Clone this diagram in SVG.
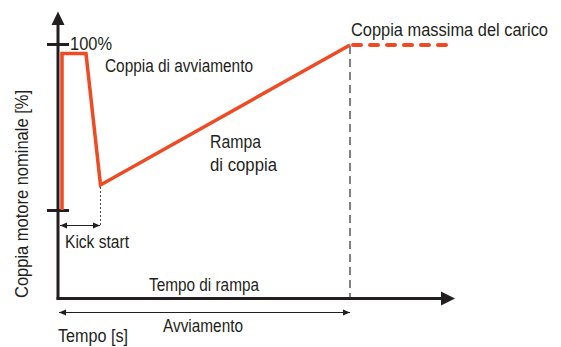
<svg xmlns="http://www.w3.org/2000/svg" width="561" height="347" viewBox="0 0 561 347">
  <style>
    text { font-family: "Liberation Sans", Arial, sans-serif; font-size: 17.5px; fill: #231f20; }
    .axis { stroke: #231f20; stroke-width: 3; fill: none; }
    .tick { stroke: #231f20; stroke-width: 3; }
    .curve { stroke: #ef4a23; stroke-width: 3.5; fill: none; stroke-linejoin: miter; }
    .curvedash { stroke: #ef4a23; stroke-width: 4; fill: none; stroke-dasharray: 8 9; stroke-linecap: round; }
    .guide { stroke: #4d4d4f; stroke-width: 1.4; stroke-dasharray: 8 5; fill: none; }
    .dot { stroke: #4d4d4f; stroke-width: 1; stroke-dasharray: 2 2; fill: none; }
    .dim { stroke: #231f20; stroke-width: 1.2; fill: none; marker-start: url(#aS); marker-end: url(#aE); }
  </style>
  <defs>
    <marker id="aE" markerWidth="8" markerHeight="8" refX="7" refY="4" orient="auto" markerUnits="userSpaceOnUse">
      <path d="M0,1 L7,4 L0,7 Z" fill="#231f20"/>
    </marker>
    <marker id="aS" markerWidth="8" markerHeight="8" refX="1" refY="4" orient="auto" markerUnits="userSpaceOnUse">
      <path d="M8,1 L1,4 L8,7 Z" fill="#231f20"/>
    </marker>
  </defs>

  <g id="axes">
    <line class="axis" x1="58" y1="299.5" x2="58" y2="22"/>
    <path d="M51.5,25 L58,11.5 L64.5,25 Z" fill="#231f20"/>
    <line class="axis" x1="56.5" y1="298.5" x2="444" y2="298.5"/>
    <path d="M441,291.5 L455,298.5 L441,305.5 Z" fill="#231f20"/>
    <line class="tick" x1="47" y1="44.5" x2="69" y2="44.5"/>
    <line class="tick" x1="47" y1="210.5" x2="69" y2="210.5"/>
  </g>

  <g id="connectors">
    <line class="guide" x1="350" y1="46" x2="350" y2="297"/>
    <line class="dot" x1="100.5" y1="187" x2="100.5" y2="225"/>
    <line class="dim" x1="60" y1="225.5" x2="100" y2="225.5"/>
    <line class="dim" x1="59" y1="312.5" x2="350" y2="312.5"/>
  </g>

  <g id="torque-curve">
    <path class="curve" d="M62,210 L62,53.5 L86,53.5 L100.5,185 L350,45"/>
    <line class="curvedash" x1="353" y1="45" x2="447" y2="45"/>
  </g>

  <g id="labels">
    <text x="70" y="49.5" textLength="42" lengthAdjust="spacingAndGlyphs">100%</text>
    <text x="105" y="72" textLength="148" lengthAdjust="spacingAndGlyphs">Coppia di avviamento</text>
    <text x="210" y="148" textLength="51" lengthAdjust="spacingAndGlyphs">Rampa</text>
    <text x="210" y="170.5" textLength="67" lengthAdjust="spacingAndGlyphs">di coppia</text>
    <text x="351" y="36" textLength="197" lengthAdjust="spacingAndGlyphs">Coppia massima del carico</text>
    <text x="65" y="248" textLength="64" lengthAdjust="spacingAndGlyphs">Kick start</text>
    <text x="149" y="291" textLength="110" lengthAdjust="spacingAndGlyphs">Tempo di rampa</text>
    <text x="163" y="332" textLength="80" lengthAdjust="spacingAndGlyphs">Avviamento</text>
    <text x="58" y="342" textLength="70" lengthAdjust="spacingAndGlyphs">Tempo [s]</text>
    <text transform="translate(28,298) rotate(-90)" x="0" y="0" textLength="208" lengthAdjust="spacingAndGlyphs">Coppia motore nominale [%]</text>
  </g>
</svg>
